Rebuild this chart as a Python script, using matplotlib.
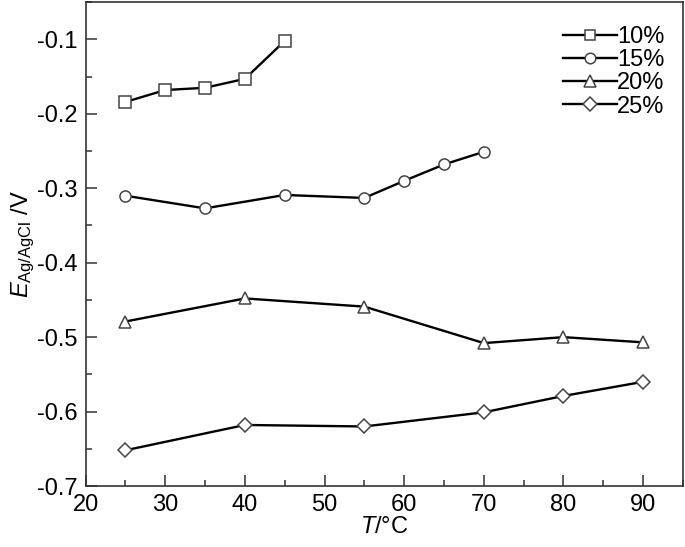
import matplotlib
matplotlib.use("Agg")
import matplotlib.pyplot as plt
from matplotlib.ticker import MultipleLocator

plt.rcParams['font.family'] = ['Liberation Sans', 'DejaVu Sans']
plt.rcParams['mathtext.fontset'] = 'custom'
plt.rcParams['mathtext.rm'] = 'Liberation Sans'
plt.rcParams['mathtext.it'] = 'Liberation Sans:italic'

# data
t_10 = [25, 30, 35, 40, 45]
e_10 = [-0.184, -0.168, -0.165, -0.153, -0.102]

t_15 = [25, 35, 45, 55, 60, 65, 70]
e_15 = [-0.310, -0.327, -0.309, -0.313, -0.290, -0.268, -0.251]

t_20 = [25, 40, 55, 70, 80, 90]
e_20 = [-0.479, -0.448, -0.459, -0.508, -0.500, -0.507]

t_25 = [25, 40, 55, 70, 80, 90]
e_25 = [-0.652, -0.618, -0.620, -0.601, -0.579, -0.560]

labels = ['10%', '15%', '20%', '25%']
markers = ['s', 'o', '^', 'D']
sizes = [8, 8, 9, 7]

fig = plt.figure(figsize=(6.85, 5.47), dpi=100)
ax = fig.add_axes([0.125, 0.1115, 0.872, 0.8845])

series = [(t_10, e_10), (t_15, e_15), (t_20, e_20), (t_25, e_25)]
for (t, e), lab, m, ms in zip(series, labels, markers, sizes):
    ax.plot(t, e, color='black', lw=1.7, marker=m, ms=ms,
            mfc='white', mec='#444444', mew=1.1, label=lab)

ax.xaxis.set_minor_locator(MultipleLocator(5))
ax.yaxis.set_minor_locator(MultipleLocator(0.05))
ax.set_xticks(range(20, 100, 10))
ax.set_xticklabels([str(v) for v in range(20, 100, 10)])
ax.set_yticks([-0.1, -0.2, -0.3, -0.4, -0.5, -0.6, -0.7])
ax.set_yticklabels(['-0.1', '-0.2', '-0.3', '-0.4', '-0.5', '-0.6', '-0.7'])
ax.set_xlim(20, 95)
ax.set_ylim(-0.7, -0.05)

ax.tick_params(which='both', direction='in', top=False, right=False,
               labelsize=17, color='#333333', width=1.1)
ax.tick_params(which='major', length=8, pad=6)
ax.tick_params(which='minor', length=4.5)
for s in ax.spines.values():
    s.set_linewidth(1.2)
    s.set_color('#333333')

ax.set_xlabel('$T$/°C', fontsize=17, labelpad=0)
ax.set_ylabel(r'$E_{\mathrm{Ag/AgCl}}$ /V', fontsize=17, labelpad=0)

ax.legend(loc='upper right', frameon=False, fontsize=17, handlelength=2.3,
          handletextpad=0.0, labelspacing=0.05, borderaxespad=0.3,
          markerscale=0.95, bbox_to_anchor=(0.997, 0.985))

fig.savefig('out.png', dpi=100)
